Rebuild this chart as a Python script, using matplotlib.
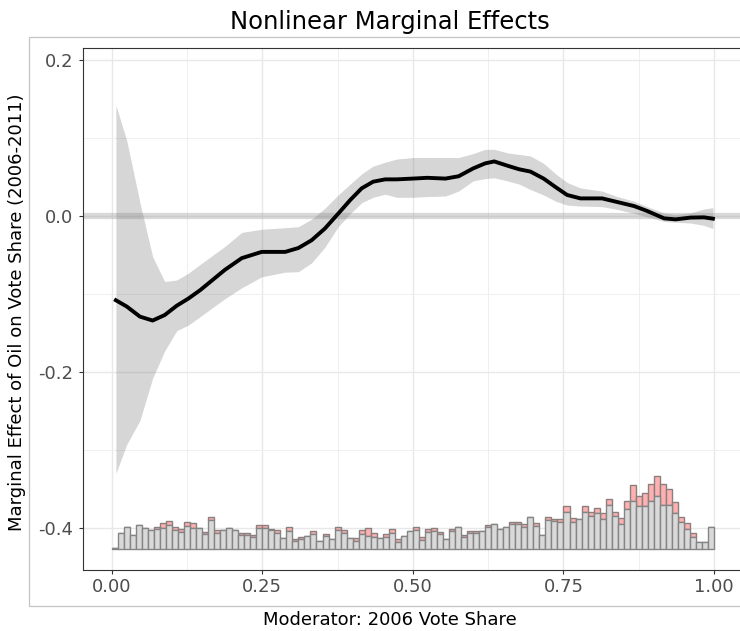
import numpy as np
import matplotlib
matplotlib.use("Agg")
import matplotlib.pyplot as plt
from matplotlib.patches import Rectangle

# marginal effect estimates
x_grid = [0.007, 0.025, 0.047, 0.068, 0.088, 0.108, 0.127, 0.147, 0.188, 0.216,
          0.249, 0.288, 0.310, 0.332, 0.354, 0.376, 0.396, 0.415, 0.434, 0.454,
          0.473, 0.500, 0.524, 0.554, 0.576, 0.600, 0.620, 0.635, 0.657, 0.676,
          0.695, 0.717, 0.737, 0.756, 0.778, 0.814, 0.839, 0.867, 0.889, 0.917,
          0.936, 0.961, 0.983, 0.998]
effect = [-0.108, -0.116, -0.129, -0.134, -0.127, -0.115, -0.106, -0.095, -0.069, -0.054,
          -0.046, -0.046, -0.041, -0.031, -0.016, 0.003, 0.0205, 0.0355, 0.044, 0.047,
          0.047, 0.048, 0.049, 0.048, 0.051, 0.061, 0.0675, 0.070, 0.0645, 0.060,
          0.057, 0.048, 0.037, 0.027, 0.0226, 0.0226, 0.018, 0.0128, 0.0064, -0.003,
          -0.0043, -0.002, -0.0017, -0.0034]
upper = [0.142, 0.097, 0.017, -0.052, -0.084, -0.082, -0.0735, -0.062, -0.039, -0.021,
         -0.017, -0.015, -0.0137, -0.004, 0.010, 0.027, 0.041, 0.054, 0.064, 0.069,
         0.073, 0.075, 0.075, 0.075, 0.075, 0.080, 0.0855, 0.0855, 0.081, 0.079,
         0.077, 0.0675, 0.054, 0.043, 0.036, 0.032, 0.025, 0.019, 0.012, 0.004,
         0.002, 0.004, 0.009, 0.0107]
lower = [-0.330, -0.293, -0.262, -0.208, -0.173, -0.147, -0.140, -0.129, -0.106, -0.092,
         -0.078, -0.072, -0.0714, -0.060, -0.040, -0.0137, 0.003, 0.017, 0.024, 0.028,
         0.024, 0.024, 0.025, 0.0256, 0.032, 0.045, 0.048, 0.049, 0.045, 0.041,
         0.034, 0.027, 0.019, 0.014, 0.0128, 0.012, 0.0085, 0.0034, -0.001, -0.007,
         -0.008, -0.009, -0.012, -0.016]

# moderator histogram (100 bins on [0, 1]): control counts and total counts
hist_control = [1.7, 16, 22.7, 14, 24.5, 21, 19.7, 20, 21, 24,
                19.3, 17.7, 23.5, 21.7, 21, 15.2, 29.2, 16.7, 19.2, 21.7,
                18.8, 14.3, 14.3, 12.3, 21, 21.7, 19.7, 16.5, 11.5, 18.3,
                8.5, 10, 13.5, 15.5, 7.8, 13, 10.7, 19.2, 16.5, 11.2,
                8.3, 15.7, 13.3, 12.7, 11.2, 12.7, 16, 7, 13.5, 18,
                19.7, 9.7, 17.2, 18.5, 15.2, 10.2, 18, 22, 12.7, 16,
                16, 18.5, 22.3, 24.8, 20, 22.7, 25.2, 25.5, 22, 31.8,
                23.5, 14.2, 29, 28, 27, 37.7, 27.3, 30, 37.7, 33.7,
                36, 30.3, 44.3, 33.3, 25.3, 40, 48.7, 43.3, 43.7, 48.7,
                53.3, 44.3, 44.3, 36, 27.7, 20.3, 12, 7, 7.7, 22.7]
hist_total = [1.7, 16, 22.7, 14, 24.5, 21, 19.7, 22.7, 26, 28,
              22, 20.3, 27, 25.8, 21, 17.5, 32, 19.5, 19.2, 21.7,
              18.8, 16.7, 16.7, 14.7, 23.8, 24.2, 20.3, 18.8, 11.5, 21.8,
              10.7, 12.2, 13.5, 18.5, 7.8, 15.5, 10.7, 22, 18.8, 11.2,
              10.8, 19, 20.8, 16.7, 11.2, 14.8, 20.2, 10, 13.5, 18,
              22, 12.3, 20, 21.2, 17.3, 10.2, 20, 22, 14.2, 18.7,
              18.7, 18.5, 24.3, 24.8, 20, 22.7, 27.5, 27.3, 24.8, 31.8,
              26.7, 14.2, 32.7, 30.5, 30.3, 43, 31.7, 30, 43.7, 37.7,
              41, 36, 50, 37.7, 31.7, 48.3, 64.3, 53.3, 56.7, 65,
              73.7, 65, 60.3, 47.3, 32.7, 26, 16, 7, 7.7, 22.7]

x_ticks = [0.0, 0.25, 0.5, 0.75, 1.0]
x_ticklabels = ["0.00", "0.25", "0.50", "0.75", "1.00"]
y_ticks = [0.2, 0.0, -0.2, -0.4]
y_ticklabels = ["0.2", "0.0", "-0.2", "-0.4"]

fig = plt.figure(figsize=(7.4, 6.31), dpi=100)

# outer plot background border (extends past right edge, as in the crop)
fig.patches.append(Rectangle((0.0388, 0.0396), 1.0, 0.9013, transform=fig.transFigure,
                             fill=False, edgecolor="#c4c4c4", linewidth=0.9))

ax = fig.add_axes([0.1118, 0.0971, 0.8923, 0.8273])
ax.set_xlim(-0.048, 1.048)
ax.set_ylim(-0.4535, 0.2158)

ax.set_axisbelow(True)
ax.set_xticks(x_ticks)
ax.set_xticklabels(x_ticklabels)
ax.set_yticks(y_ticks)
ax.set_yticklabels(y_ticklabels)
ax.set_xticks([0.125, 0.375, 0.625, 0.875], minor=True)
ax.set_yticks([0.1, -0.1, -0.3], minor=True)
ax.grid(which="major", color="#e8e8e8", linewidth=1.0)
ax.grid(which="minor", color="#efefef", linewidth=0.7)
ax.tick_params(which="minor", length=0)
ax.tick_params(which="major", length=2.8, width=0.8, color="#333333",
               labelcolor="#4d4d4d", labelsize=13, pad=3)
ax.tick_params(axis="y", pad=4)
for side in ["left", "bottom", "top"]:
    ax.spines[side].set_color("#333333")
    ax.spines[side].set_linewidth(0.8)
ax.spines["right"].set_visible(False)

# zero reference line
ax.axhline(0, color="#a0a0a0", alpha=0.4, linewidth=4.5, zorder=1)

# histogram of moderator
base = -0.4273
scale = 0.0945 / max(hist_total)
edges = np.linspace(0, 1, len(hist_total) + 1)
width = edges[1] - edges[0]
ctrl = np.array(hist_control) * scale
tot = np.array(hist_total) * scale
ax.bar(edges[:-1], tot - ctrl, width=width, bottom=base + ctrl, align="edge",
       color="#ffb0b0", edgecolor="#8a7f7f", linewidth=1.0, zorder=2)
ax.bar(edges[:-1], ctrl, width=width, bottom=base, align="edge",
       color="#d9d9d9", edgecolor="#858585", linewidth=1.0, zorder=2)

# confidence band and estimate
ax.fill_between(x_grid, lower, upper, color="gray", alpha=0.32, linewidth=0, zorder=3)
ax.plot(x_grid, effect, color="black", linewidth=2.8, zorder=4)

ax.set_xlabel("Moderator: 2006 Vote Share", fontsize=13)
ax.set_ylabel("Marginal Effect of Oil on Vote Share (2006-2011)", fontsize=13)
ax.xaxis.set_label_coords(0.4654, -0.080)
ax.yaxis.set_label_coords(-0.086, 0.494)
fig.text(0.527, 0.965, "Nonlinear Marginal Effects", fontsize=17.5, ha="center", va="center")

fig.savefig("out.png", dpi=100)
